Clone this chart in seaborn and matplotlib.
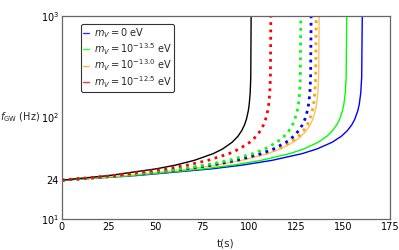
import numpy as np
import pandas as pd
import matplotlib
matplotlib.use("Agg")
import matplotlib.pyplot as plt
from matplotlib.lines import Line2D
from matplotlib.ticker import FixedLocator, NullLocator
import seaborn as sns

# frequency values (Hz)
f_hz = [24, 26.7, 31.1, 33.8, 37.7, 43.9, 48.9, 56.9, 65.0, 73.8, 84.4, 95.7, 116, 135, 175, 247, 1000]

# times (s) for each curve at the frequencies above
t_black = [0, 25.25, 50.5, 60.6, 70.7, 80.8, 85.85, 90.9, 93.93, 95.95, 97.47, 98.48, 99.49, 99.99, 100.5, 100.8, 101.0]
t_red_dot = [0, 27.88, 55.75, 66.9, 78.05, 89.2, 94.78, 100.35, 103.7, 105.93, 107.6, 108.71, 109.83, 110.39, 110.94, 111.28, 111.5]
t_green_dot = [0, 31.88, 63.75, 76.5, 89.25, 102.0, 108.38, 114.75, 118.58, 121.13, 123.04, 124.31, 125.59, 126.23, 126.86, 127.25, 127.5]
t_blue_dot = [0, 33.25, 66.5, 79.8, 93.1, 106.4, 113.05, 119.7, 123.69, 126.35, 128.35, 129.68, 131.01, 131.67, 132.34, 132.73, 133.0]
t_orange_dot = [0, 33.93, 67.85, 81.42, 94.99, 108.56, 115.35, 122.13, 126.2, 128.92, 130.95, 132.31, 133.66, 134.34, 135.02, 135.43, 135.7]
t_orange = [0, 34.33, 68.65, 82.38, 96.11, 109.84, 116.71, 123.57, 127.69, 130.44, 132.49, 133.87, 135.24, 135.93, 136.61, 137.03, 137.3]
t_green = [0, 38.0, 76.0, 91.2, 106.4, 121.6, 129.2, 136.8, 141.36, 144.4, 146.68, 148.2, 149.72, 150.48, 151.24, 151.7, 152.0]
t_blue = [0, 40.08, 80.15, 96.18, 112.21, 128.24, 136.26, 144.27, 149.08, 152.29, 154.69, 156.29, 157.9, 158.7, 159.5, 159.98, 160.3]

legend_labels = [r"$m_V = 0$ eV", r"$m_V = 10^{-13.5}$ eV",
                 r"$m_V = 10^{-13.0}$ eV", r"$m_V = 10^{-12.5}$ eV"]
x_ticks = [0, 25, 50, 75, 100, 125, 150, 175]
y_ticks = [10, 24, 100, 1000]
y_ticklabels = [r"$10^1$", "24", r"$10^2$", r"$10^3$"]

sns.set_style("white")
plt.rcParams["font.family"] = ["DejaVu Sans"]
plt.rcParams["font.size"] = 7

fig = plt.figure(figsize=(3.99, 2.5), dpi=100)
ax = fig.add_axes([0.155, 0.125, 0.822, 0.811])

solid = [(t_blue, "blue"), (t_green, "lime"), (t_orange, "#f7c26b"), (t_black, "black")]
for t, c in solid:
    sns.lineplot(x=t, y=f_hz, color=c, lw=1.0, sort=False, estimator=None, ax=ax)

dotted = [(t_orange_dot, "orange"), (t_blue_dot, "blue"), (t_green_dot, "lime"), (t_red_dot, "red")]
for t, c in dotted:
    sns.lineplot(x=t, y=f_hz, color=c, lw=2.0, linestyle=":", sort=False, estimator=None, ax=ax)

ax.set_yscale("log")
ax.set_xlim(0, 175)
ax.set_ylim(10, 1000)
ax.xaxis.set_major_locator(FixedLocator(x_ticks))
ax.yaxis.set_major_locator(FixedLocator(y_ticks))
ax.yaxis.set_minor_locator(NullLocator())
ax.set_yticklabels(y_ticklabels)
ax.tick_params(direction="in", length=2, width=0.6, colors="#444444", labelcolor="black",
               labelsize=7, pad=2)
for s in ax.spines.values():
    s.set_color("#666666")
    s.set_linewidth(0.9)

ax.set_xlabel("t(s)", fontsize=7.5, labelpad=5)
fig.text(0.0, 1 - 117 / 250, r"$f_{\rm GW}$ (Hz)", fontsize=7, va="center", ha="left")

handles = [Line2D([], [], color=c, lw=1.0, alpha=0.8) for c in ["blue", "lime", "orange", "red"]]
leg = ax.legend(handles, legend_labels, loc="upper left", bbox_to_anchor=(0.058, 0.962),
                borderaxespad=0, frameon=True, fancybox=True, handlelength=0.6,
                handletextpad=0.5, labelspacing=0.1, borderpad=0.25, fontsize=7)
leg.get_frame().set_edgecolor("black")
leg.get_frame().set_linewidth(0.8)

fig.savefig("out.png", dpi=100)
